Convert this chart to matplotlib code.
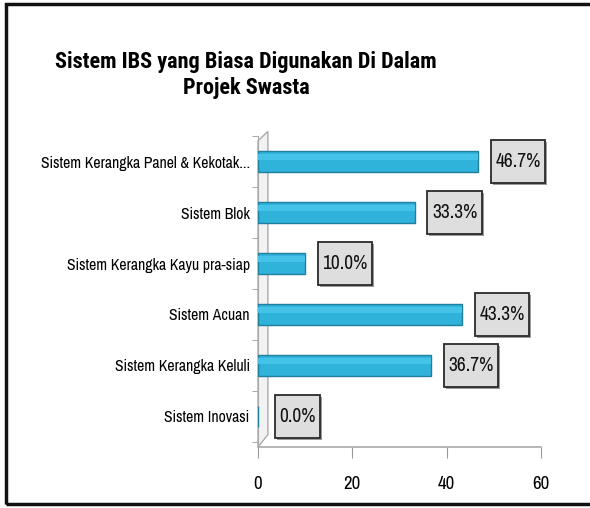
import matplotlib
matplotlib.use('Agg')
import matplotlib.pyplot as plt
from matplotlib.patches import Polygon, Rectangle

# Data
categories = [
    'Sistem Kerangka Panel & Kekotak...',
    'Sistem Blok',
    'Sistem Kerangka Kayu pra-siap',
    'Sistem Acuan',
    'Sistem Kerangka Keluli',
    'Sistem Inovasi',
]
values = [46.7, 33.3, 10.0, 43.3, 36.7, 0.0]
xticks = [0, 20, 40, 60]
title = 'Sistem IBS yang Biasa Digunakan Di Dalam\nProjek Swasta'

NARROW = ['Archivo Narrow', 'Liberation Sans', 'DejaVu Sans']
TITLE_FONT = ['Roboto Condensed', 'Fira Sans Condensed', 'Liberation Sans', 'DejaVu Sans']
plt.rcParams['font.family'] = NARROW

fig = plt.figure(figsize=(5.9, 5.08), dpi=100)
fig.patch.set_facecolor('white')

# outer frame of the chart area (right side runs off the picture)
fig.add_artist(Rectangle((0.011, 0.008), 1.2, 0.985, transform=fig.transFigure,
                         fill=False, edgecolor='#111111', linewidth=2.5))

ax = fig.add_axes([0.4373, 0.1201, 0.4797, 0.612])

ypos = list(range(len(categories)))[::-1]
ax.barh(ypos, values, height=0.4, color='#30b3db', edgecolor='#1f7f9c',
        linewidth=1.0, zorder=3)
# soft highlight near the top of each bar
ax.barh([y + 0.09 for y in ypos], values, height=0.12, color='#45c2e8',
        linewidth=0, zorder=4)

ax.set_xlim(0, 60)
ax.set_ylim(-0.6, len(categories) - 0.5)

# value labels in grey boxes
texts = []
for y, v in zip(ypos, values):
    t = ax.annotate(f'{v:.1f}%', xy=(v, y), xytext=(28.5, 0),
                    textcoords='offset points', ha='center', va='center',
                    fontsize=14, color='#111111', zorder=8,
                    annotation_clip=False)
    texts.append(t)

fig.canvas.draw()
r = fig.canvas.get_renderer()
inv = fig.transFigure.inverted()
for t in texts:
    bb = t.get_window_extent(r)
    cx = (bb.x0 + bb.x1) / 2
    cy = (bb.y0 + bb.y1) / 2
    w = bb.width + 9
    h = 43
    # shadow
    (x0, y0) = inv.transform((cx - w / 2 + 2, cy - h / 2 - 2))
    (x1, y1) = inv.transform((cx + w / 2 + 2, cy + h / 2 - 2))
    ax.add_artist(Rectangle((x0, y0), x1 - x0, y1 - y0, transform=fig.transFigure,
                            facecolor='#9a9a9a', edgecolor='none', zorder=6,
                            clip_on=False))
    (x0, y0) = inv.transform((cx - w / 2, cy - h / 2))
    (x1, y1) = inv.transform((cx + w / 2, cy + h / 2))
    ax.add_artist(Rectangle((x0, y0), x1 - x0, y1 - y0, transform=fig.transFigure,
                            facecolor='#dedede', edgecolor='#2a2a2a',
                            linewidth=1.3, zorder=7, clip_on=False))

ax.set_xticks(xticks)
ax.set_xticklabels([str(t) for t in xticks], fontsize=13.5)
ax.set_yticks(ypos)
ax.set_yticklabels(categories, fontsize=11.3)
ax.set_yticks([y - 0.5 for y in ypos] + [len(categories) - 0.5], minor=True)
ax.tick_params(axis='y', which='major', length=0, pad=6)
ax.tick_params(axis='y', which='minor', length=4, color='#999999')
ax.tick_params(axis='x', length=8, color='#999999', pad=13)

for s in ['top', 'right']:
    ax.spines[s].set_visible(False)
ax.spines['left'].set_color('#aaaaaa')
ax.spines['bottom'].set_color('#aaaaaa')
ax.spines['bottom'].set_linewidth(1.2)

# thin 3D side wall
wall = Polygon([(0, 0), (0.035, 0.04), (0.035, 1.015), (0, 0.985)],
               closed=True, transform=ax.transAxes, facecolor='#f2f2f2',
               edgecolor='#aaaaaa', linewidth=1.0, clip_on=False, zorder=2)
ax.add_patch(wall)

fig.text(0.417, 0.9, title, ha='center', va='top', fontsize=16,
         fontweight='bold', family=TITLE_FONT, linespacing=1.25)

fig.savefig('out.png', dpi=100)
